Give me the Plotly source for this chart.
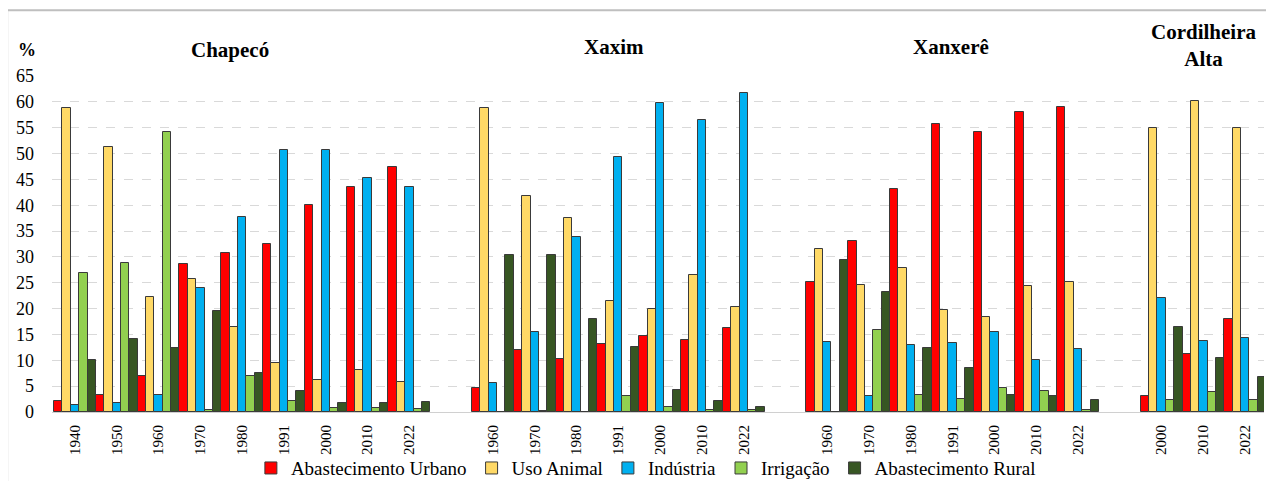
import plotly.graph_objects as go

regions = ["Chapecó", "Xaxim", "Xanxerê", "Cordilheira<br>Alta"]
years_chapeco = ["1940", "1950", "1960", "1970", "1980", "1991", "2000", "2010", "2022"]
years_xaxim = ["1960", "1970", "1980", "1991", "2000", "2010", "2022"]
years_xanxere = ["1960", "1970", "1980", "1991", "2000", "2010", "2022"]
years_cordilheira = ["2000", "2010", "2022"]

series_names = ["Abastecimento Urbano", "Uso Animal", "Indústria", "Irrigação", "Abastecimento Rural"]
series_colors = ["#FF0000", "#FFD966", "#00B0F0", "#92D050", "#375623"]

# Chapecó
chapeco_urbano = [2.1, 3.2, 6.9, 28.6, 30.8, 32.5, 40.1, 43.6, 47.4]
chapeco_animal = [58.9, 51.2, 22.3, 25.7, 16.4, 9.5, 6.1, 8.2, 5.8]
chapeco_industria = [1.4, 1.8, 3.3, 24.0, 37.7, 50.6, 50.6, 45.3, 43.6]
chapeco_irrigacao = [26.8, 28.9, 54.2, 0.4, 7.0, 2.1, 0.8, 0.7, 0.5]
chapeco_rural = [10.1, 14.2, 12.4, 19.6, 7.5, 4.1, 1.7, 1.8, 2.0]

# Xaxim
xaxim_urbano = [4.7, 12.0, 10.2, 13.1, 14.8, 14.0, 16.3]
xaxim_animal = [58.8, 41.8, 37.6, 21.4, 20.0, 26.5, 20.3]
xaxim_industria = [5.7, 15.4, 33.8, 49.3, 59.7, 56.4, 61.8]
xaxim_irrigacao = [0.0, 0.1, 0.0, 3.1, 0.9, 0.4, 0.3]
xaxim_rural = [30.4, 30.3, 18.0, 12.6, 4.2, 2.2, 1.0]

# Xanxerê
xanxere_urbano = [25.1, 33.0, 43.1, 55.7, 54.1, 58.0, 59.1]
xanxere_animal = [31.5, 24.5, 27.9, 19.8, 18.3, 24.3, 25.1]
xanxere_industria = [13.6, 3.1, 12.9, 13.3, 15.4, 10.1, 12.1]
xanxere_irrigacao = [0.0, 15.9, 3.3, 2.5, 4.7, 4.1, 0.4]
xanxere_rural = [29.5, 23.2, 12.3, 8.5, 3.3, 3.0, 2.3]

# Cordilheira Alta
cordilheira_urbano = [3.1, 11.3, 18.0]
cordilheira_animal = [55.0, 60.1, 55.0]
cordilheira_industria = [22.1, 13.7, 14.3]
cordilheira_irrigacao = [2.4, 3.9, 2.3]
cordilheira_rural = [16.5, 10.4, 6.8]

y_ticks = list(range(0, 70, 5))

region_years = [years_chapeco, years_xaxim, years_xanxere, years_cordilheira]
region_series = [
    [chapeco_urbano, chapeco_animal, chapeco_industria, chapeco_irrigacao, chapeco_rural],
    [xaxim_urbano, xaxim_animal, xaxim_industria, xaxim_irrigacao, xaxim_rural],
    [xanxere_urbano, xanxere_animal, xanxere_industria, xanxere_irrigacao, xanxere_rural],
    [cordilheira_urbano, cordilheira_animal, cordilheira_industria, cordilheira_irrigacao, cordilheira_rural],
]

# category positions with one empty slot between regions
positions, labels, region_pos = [], [], []
pos = 0
for yrs in region_years:
    rp = []
    for y in yrs:
        positions.append(pos)
        labels.append(y)
        rp.append(pos)
        pos += 1
    region_pos.append(rp)
    pos += 1
last_slot = positions[-1]

fig = go.Figure()
for si, (name, color) in enumerate(zip(series_names, series_colors)):
    xs, ys = [], []
    for ri in range(len(region_years)):
        xs += region_pos[ri]
        ys += region_series[ri][si]
    fig.add_trace(go.Bar(
        x=xs, y=ys, name=name,
        marker=dict(color=color, line=dict(color="#3a3a3a", width=1)),
    ))

serif = "Liberation Serif"

# page has an 8px body margin; the figure is sized/offset to compensate
fig.update_layout(
    barmode="group", bargap=0, bargroupgap=0,
    width=1266, height=473,
    margin=dict(l=44, r=10, t=68, b=69, autoexpand=False),
    paper_bgcolor="white", plot_bgcolor="white",
    font=dict(family=serif, color="#000000"),
    showlegend=True,
    legend=dict(orientation="h", x=0.49, xanchor="center", y=-0.167, yanchor="middle",
                font=dict(family=serif, size=19), traceorder="normal",
                itemclick=False, bgcolor="rgba(0,0,0,0)"),
    xaxis=dict(
        range=[-0.55, last_slot + 0.45],
        tickmode="array", tickvals=positions, ticktext=labels,
        tickangle=-90, tickfont=dict(family=serif, size=15),
        showgrid=False, zeroline=False,
        showline=True, linecolor="#d0d0d0", linewidth=1,
        ticks="", ticklabelstandoff=6,
    ),
    yaxis=dict(
        range=[0, 65], tickmode="array", tickvals=y_ticks,
        tickfont=dict(family=serif, size=18),
        showgrid=True, gridcolor="#d9d9d9", griddash="dash", gridwidth=1,
        zeroline=False, showline=False, ticks="", ticklabelstandoff=17,
    ),
)

titles_x = [0.147, 0.464, 0.742, 0.950]
titles_y = [1.077, 1.086, 1.086, 1.09]
for t, xp, yp in zip(regions, titles_x, titles_y):
    fig.add_annotation(text=f"<b>{t}</b>", xref="paper", yref="paper", x=xp, y=yp,
                       showarrow=False, font=dict(family=serif, size=21),
                       xanchor="center", yanchor="middle")

fig.add_annotation(text="<b>%</b>", xref="paper", yref="paper", x=-0.021, y=1.077,
                   showarrow=False, font=dict(family=serif, size=18),
                   xanchor="center", yanchor="middle")

fig.add_shape(type="rect", xref="paper", yref="paper",
              x0=-0.037, x1=1.02, y0=-0.25, y1=1.196,
              line=dict(color="#bfbfbf", width=2), fillcolor="rgba(0,0,0,0)", layer="below")

fig.write_html("out.html")
